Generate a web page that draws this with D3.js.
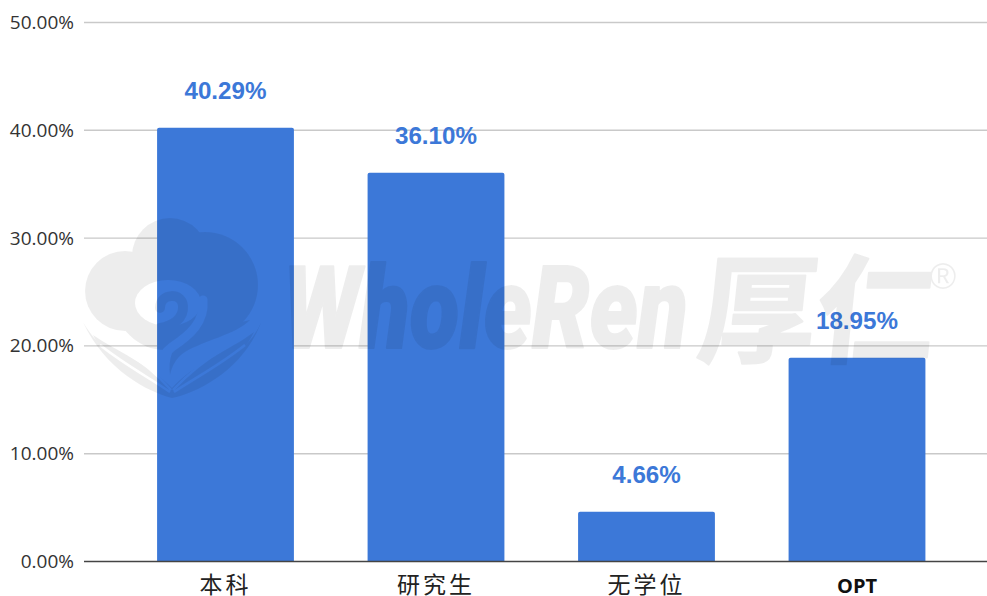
<!DOCTYPE html>
<html><head><meta charset="utf-8">
<script src="https://cdnjs.cloudflare.com/ajax/libs/d3/7.8.5/d3.min.js"></script>
<style>html,body{margin:0;background:#fff}svg{display:block}</style></head>
<body><svg id="c" width="987" height="596"></svg>
<script>
const categories = ["本科", "研究生", "无学位", "OPT"];
const values = [40.29, 36.10, 4.66, 18.95];
const yTicks = [0, 10, 20, 30, 40, 50];
const watermarkWord = "WholeRen";
const watermarkCn = "厚仁";

const svg = d3.select("#c");
const x = d3.scaleBand().domain(categories).range([120.25, 962.25]).paddingInner(0.35).paddingOuter(0.175);
const y = d3.scaleLinear().domain([0, 50]).range([561.5, 22.5]);
const fmt = v => v.toFixed(2) + "%";
const tickFont = "'Open Sans', sans-serif";

svg.append("g").selectAll("line").data(yTicks.filter(d => d > 0)).join("line")
  .attr("x1", 84).attr("x2", 987).attr("y1", d => y(d)).attr("y2", d => y(d))
  .attr("stroke", "#c9c9c9").attr("stroke-width", 1.4);

svg.append("g").selectAll("text").data(yTicks).join("text")
  .attr("x", 74).attr("y", d => y(d) + 6.5).attr("text-anchor", "end")
  .attr("font-family", tickFont).attr("font-size", 19).attr("fill", "#333")
  .text(d => d.toFixed(2) + "%");

const r = 2;
svg.append("g").selectAll("path").data(categories).join("path")
  .attr("fill", "#3c78d8")
  .attr("d", (d, i) => {
    const x0 = x(d), w = x.bandwidth(), t = y(values[i]) + 0.5, b = y(0);
    return `M${x0},${b}V${t + r}Q${x0},${t} ${x0 + r},${t}H${x0 + w - r}Q${x0 + w},${t} ${x0 + w},${t + r}V${b}Z`;
  });

svg.append("line").attr("x1", 84).attr("x2", 987).attr("y1", y(0)).attr("y2", y(0))
  .attr("stroke", "#444").attr("stroke-width", 1.6);

svg.append("g").selectAll("text").data(categories).join("text")
  .attr("x", d => x(d) + x.bandwidth() / 2).attr("y", (d, i) => i === 3 ? 593 : 592.5)
  .attr("text-anchor", "middle")
  .attr("font-family", (d, i) => i === 3 ? tickFont : "'Noto Sans CJK SC', sans-serif")
  .attr("font-weight", (d, i) => i === 3 ? 700 : 400)
  .attr("font-size", (d, i) => i === 3 ? 20 : 23)
  .attr("letter-spacing", (d, i) => i === 3 ? 0 : 3)
  .attr("fill", (d, i) => i === 3 ? "#111" : "#222")
  .text(d => d);

svg.append("g").selectAll("text").data(categories).join("text")
  .attr("x", d => x(d) + x.bandwidth() / 2).attr("y", (d, i) => y(values[i]) - 28)
  .attr("text-anchor", "middle")
  .attr("font-family", "'Liberation Sans', Arial, sans-serif")
  .attr("font-weight", 700).attr("font-size", 24.2).attr("fill", "#3c78d8")
  .text((d, i) => fmt(values[i]));

// faint watermark laid over the chart
const wm = svg.append("g").attr("fill", "#000").attr("stroke", "#000").attr("stroke-linejoin", "round")
  .attr("opacity", 0.065).attr("pointer-events", "none");
const mask = svg.append("defs").append("mask").attr("id", "logo");
mask.append("rect").attr("width", 987).attr("height", 596).attr("fill", "#000");
[[170, 256, 38], [125, 291, 40], [205, 285, 53], [165, 300, 50]].forEach(([cx, cy, rad]) =>
  mask.append("circle").attr("cx", cx).attr("cy", cy).attr("r", rad).attr("fill", "#fff"));
mask.append("path").attr("fill", "#fff")
  .attr("d", "M250,320C235,335 205,340 185,352C176,358 172,366 170,375C168,360 172,345 185,335Z");
mask.append("ellipse").attr("cx", 168).attr("cy", 303).attr("rx", 33).attr("ry", 23).attr("fill", "#000");
mask.append("path").attr("fill", "none").attr("stroke", "#000").attr("stroke-width", 9).attr("stroke-linecap", "round")
  .attr("d", "M203,300C205,322 190,335 172,347C165,352 160,360 160,368");
mask.append("path").attr("fill", "none").attr("stroke", "#fff").attr("stroke-width", 10).attr("stroke-linecap", "round")
  .attr("d", "M160,308C160,293 182,292 183,306C184,319 172,326 160,328");
mask.append("path").attr("fill", "#fff")
  .attr("d", "M83,322C105,370 148,392 172,398C200,392 245,368 262,320C250,352 212,372 172,392C132,372 100,352 83,322Z");
mask.append("path").attr("fill", "#fff")
  .attr("d", "M93,335C115,350 150,365 172,388C192,365 230,350 254,332C240,362 205,385 172,396C140,385 105,362 93,335Z");
mask.append("path").attr("fill", "none").attr("stroke", "#000").attr("stroke-width", 2.5)
  .attr("d", "M100,345C125,365 150,378 170,392M120,348C140,360 158,375 171,390M245,345C220,365 195,378 174,392M225,348C205,360 187,375 173,390");
wm.append("rect").attr("width", 987).attr("height", 596).attr("mask", "url(#logo)").attr("stroke", "none");
wm.append("text").attr("x", 283).attr("y", 348).attr("font-family", "Roboto, 'Liberation Sans', sans-serif")
  .attr("font-weight", 900).attr("font-style", "italic").attr("font-size", 114).attr("stroke-width", 2)
  .attr("textLength", 405).attr("lengthAdjust", "spacingAndGlyphs").text(watermarkWord);
wm.append("text").attr("transform", "translate(695,354) skewX(-6)")
  .attr("font-family", "'Noto Sans CJK SC', sans-serif")
  .attr("font-weight", 700).attr("font-size", 118).attr("stroke-width", 2).text(watermarkCn);
wm.append("text").attr("x", 943).attr("y", 289).attr("text-anchor", "middle").attr("stroke", "none")
  .attr("font-family", "'Liberation Sans', sans-serif").attr("font-size", 36).text("®");
</script></body></html>
